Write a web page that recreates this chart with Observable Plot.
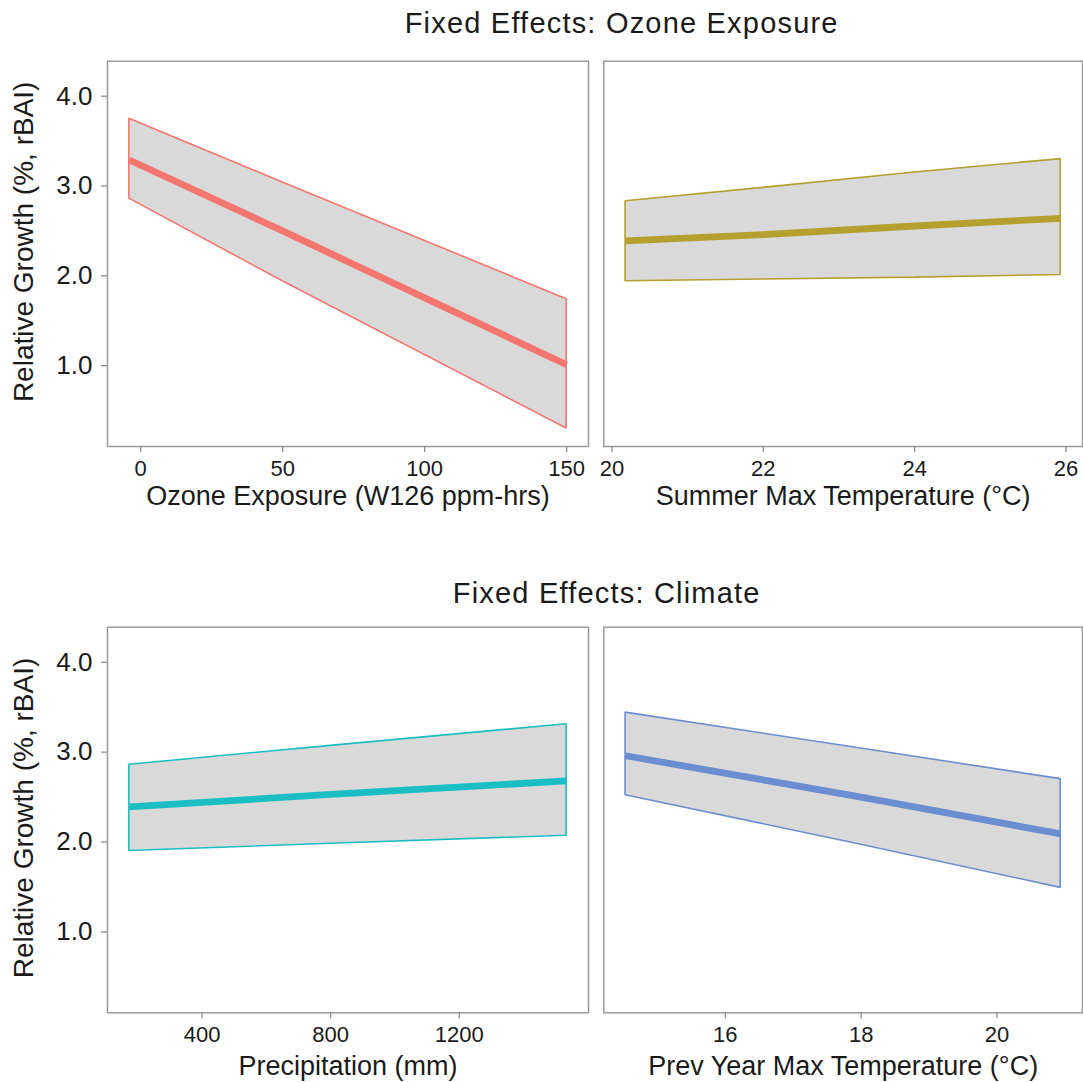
<!DOCTYPE html>
<html>
<head>
<meta charset="utf-8">
<script src="https://cdn.jsdelivr.net/npm/d3@7"></script>
<script src="https://cdn.jsdelivr.net/npm/@observablehq/plot@0.6"></script>
<style>
  body { margin: 0; background: #fff; font-family: "Liberation Sans", Arial, sans-serif; }
  #fig { position: relative; width: 1083px; height: 1082px; overflow: hidden; background: #fff; }
  .title { position: absolute; font-size: 29px; line-height: 29px; letter-spacing: 1.2px; color: #1a1a1a;
           white-space: nowrap; transform: translateX(-50%); }
  .panel { position: absolute; }
</style>
</head>
<body>
<div id="fig"></div>
<script>
// Fitted relative growth (%, rBAI) with confidence band, per predictor
const ozoneX     = [-4, 50, 150];
const ozoneFit   = [3.29, 2.50, 1.01];
const ozoneLower = [2.86, 1.94, 0.30];
const ozoneUpper = [3.75, 3.04, 1.74];

const summerX     = [20.18, 22, 24, 25.93];
const summerFit   = [2.39, 2.46, 2.555, 2.64];
const summerLower = [1.94, 1.96, 1.98, 2.01];
const summerUpper = [2.83, 2.98, 3.15, 3.30];

const precipX     = [174, 800, 1534];
const precipFit   = [2.39, 2.53, 2.68];
const precipLower = [1.90, 1.98, 2.07];
const precipUpper = [2.86, 3.07, 3.31];

const prevX     = [14.53, 18, 20.94];
const prevFit   = [2.96, 2.50, 2.09];
const prevLower = [2.52, 1.97, 1.49];
const prevUpper = [3.44, 3.04, 2.70];

// Axis ticks and labels
const yTicks = [1, 2, 3, 4];
const ozoneTicks = [0, 50, 100, 150];
const summerTicks = [20, 22, 24, 26];
const precipTicks = [400, 800, 1200];
const prevTicks = [16, 18, 20];

const titles = ["Fixed Effects: Ozone Exposure", "Fixed Effects: Climate"];
const yLabel = "Relative Growth (%, rBAI)";
const xLabels = ["Ozone Exposure (W126 ppm-hrs)", "Summer Max Temperature (\u00B0C)",
                 "Precipitation (mm)", "Prev Year Max Temperature (\u00B0C)"];
const colors = ["#F4766E", "#B59F2E", "#1BBEC2", "#6B8ED1"];

const yDomain = [0.1, 4.39];
const FONT = "'Liberation Sans', Arial, sans-serif";

function rows(xs, fit, lo, hi) {
  return xs.map((x, i) => ({x, fit: fit[i], lo: lo[i], hi: hi[i]}));
}
// ggplot-style 5% expansion of the data range
function expand(xs) {
  const [a, b] = d3.extent(xs);
  const p = (b - a) * 0.05;
  return [a - p, b + p];
}

const panels = [
  {data: rows(ozoneX, ozoneFit, ozoneLower, ozoneUpper), ticks: ozoneTicks, label: xLabels[0], color: colors[0],
   left: 0, top: 40, width: 596, height: 500, mt: 20.7, mb: 94, ml: 107, mr: 8, yAxis: true, titleDy: 58, yDy: -12},
  {data: rows(summerX, summerFit, summerLower, summerUpper), ticks: summerTicks, label: xLabels[1], color: colors[1],
   left: 596, top: 40, width: 487, height: 500, mt: 20.7, mb: 94, ml: 7.3, mr: 1, yAxis: false, titleDy: 58},
  {data: rows(precipX, precipFit, precipLower, precipUpper), ticks: precipTicks, label: xLabels[2], color: colors[2],
   left: 0, top: 606, width: 596, height: 476, mt: 20.7, mb: 69.7, ml: 107, mr: 8, yAxis: true, titleDy: 62, yDy: -2},
  {data: rows(prevX, prevFit, prevLower, prevUpper), ticks: prevTicks, label: xLabels[3], color: colors[3],
   left: 596, top: 606, width: 487, height: 476, mt: 20.7, mb: 69.7, ml: 7.3, mr: 1, yAxis: false, titleDy: 62}
];

const fig = document.getElementById("fig");

// Row titles
[[titles[0], 621.7, 8.8], [titles[1], 606.7, 578.8]].forEach(([t, cx, top]) => {
  const d = document.createElement("div");
  d.className = "title";
  d.textContent = t;
  d.style.left = cx + "px";
  d.style.top = top + "px";
  fig.appendChild(d);
});

panels.forEach(p => {
  const marks = [
    Plot.areaY(p.data, {x: "x", y1: "lo", y2: "hi", fill: "#D9D9D9", stroke: p.color, strokeWidth: 1.6,
                        strokeLinejoin: "miter"}),
    Plot.line(p.data, {x: "x", y: "fit", stroke: p.color, strokeWidth: 6.8, strokeLinecap: "butt"}),
    Plot.frame({stroke: "#9a9a9a", strokeWidth: 1.5}),
    Plot.axisX({ticks: p.ticks, tickFormat: d3.format("d"), tickSize: 6, tickPadding: 8, fontSize: 22,
                stroke: "#8c8c8c", strokeWidth: 1.3, fill: "#1a1a1a", label: null}),
    Plot.text([p.label], {frameAnchor: "bottom", lineAnchor: "bottom", textAnchor: "middle", dy: p.titleDy,
                          fontSize: 27, fill: "#1a1a1a"})
  ];
  if (p.yAxis) {
    marks.push(
      Plot.axisY({ticks: yTicks, tickFormat: d => d.toFixed(1), tickSize: 6, tickPadding: 9, fontSize: 26,
                  stroke: "#8c8c8c", strokeWidth: 1.3, fill: "#1a1a1a", label: null}),
      Plot.text([yLabel], {frameAnchor: "left", rotate: -90, textAnchor: "middle", lineAnchor: "middle",
                           dx: -83, dy: p.yDy, fontSize: 28, fill: "#1a1a1a"})
    );
  }
  const chart = Plot.plot({
    width: p.width,
    height: p.height,
    marginTop: p.mt,
    marginBottom: p.mb,
    marginLeft: p.ml,
    marginRight: p.mr,
    style: {fontFamily: FONT, background: "transparent", overflow: "visible"},
    x: {domain: expand(p.data.map(d => d.x)), axis: null},
    y: {domain: yDomain, axis: null},
    marks
  });
  chart.classList.add("panel");
  chart.style.left = p.left + "px";
  chart.style.top = p.top + "px";
  fig.appendChild(chart);
});
</script>
</body>
</html>
